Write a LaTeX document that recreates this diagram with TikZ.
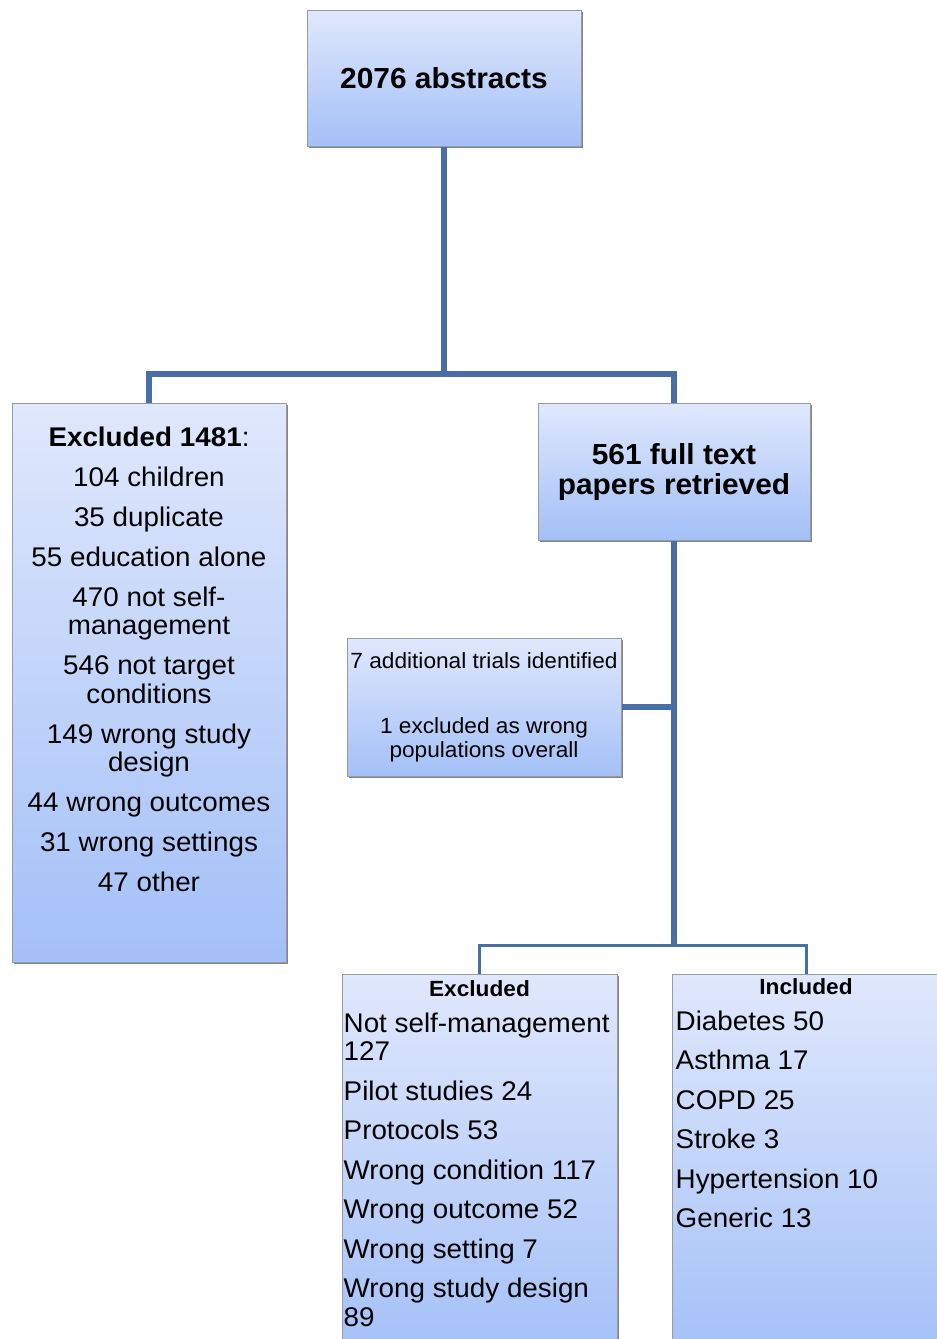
\documentclass[tikz,border=0pt]{standalone}
\usepackage{fontspec}
\setmainfont{Liberation Sans}[FakeStretch=1.03]
\usepackage{tikz}
\usetikzlibrary{positioning, shadows}
\definecolor{boxtop}{RGB}{224,232,252}
\definecolor{boxbottom}{RGB}{163,192,247}
\definecolor{boxedge}{RGB}{150,155,165}
\definecolor{linkblue}{RGB}{72,110,165}

\begin{document}
\begin{tikzpicture}[
        x=1pt, y=-1pt,
        flowbox/.style={rectangle, draw=boxedge, line width=1pt,
                        top color=boxtop, bottom color=boxbottom,
                        drop shadow={shadow xshift=1.5pt, shadow yshift=-1.5pt,
                                     fill=black!60, opacity=0.8},
                        inner sep=0pt, align=center},
        headtext/.style={font=\bfseries\fontsize{29}{30}\selectfont},
        listtext/.style={inner sep=0pt, font=\fontsize{27}{28.5}\selectfont},
        sidetext/.style={font=\fontsize{22}{24}\selectfont},
        subhead/.style={inner sep=0pt, font=\bfseries\fontsize{22}{24}\selectfont},
        link/.style={line width=5.5pt, linkblue},
        thinlink/.style={line width=3pt, linkblue},
    ]
    \clip (0,0) rectangle (937,1339);

    % ---- Top: abstracts ----
    \node[flowbox, headtext, minimum width=274pt, minimum height=136pt] (abstracts)
        at (444,78) {2076 abstracts};

    % ---- Second level ----
    \node[flowbox, minimum width=274pt, minimum height=559pt] (excl) at (149,682.5) {};
    \node[listtext, align=center, below=24pt of excl.north] (excltxt)
        {\textbf{Excluded 1481}:\\[11.5pt]104 children\\[11.5pt]35 duplicate\\[11.5pt]55 education alone\\[11.5pt]470 not self-\\management\\[11.5pt]546 not target\\conditions\\[11.5pt]149 wrong study\\design\\[11.5pt]44 wrong outcomes\\[11.5pt]31 wrong settings\\[11.5pt]47 other};

    \node[flowbox, headtext, minimum width=272pt, minimum height=137pt] (fulltext)
        at (674,471.5) {561 full text\\papers retrieved};

    % ---- Side branch: additional trials ----
    \node[flowbox, sidetext, minimum width=274pt, minimum height=138pt] (addtrials)
        at (484,707) {7 additional trials identified\\[41pt]1 excluded as wrong\\populations overall};

    % ---- Bottom: excluded / included ----
    \node[flowbox, minimum width=275pt, minimum height=386pt] (excl2) at (479.5,1167) {};
    \node[subhead, below=7pt of excl2.north] (excl2head) {Excluded};
    \node[listtext, align=left, below right=39pt and 2pt of excl2.north west] (excl2txt)
        {Not self-management\\127\\[11pt]Pilot studies 24\\[11pt]Protocols 53\\[11pt]Wrong condition 117\\[11pt]Wrong outcome 52\\[11pt]Wrong setting 7\\[11pt]Wrong study design\\89};

    \node[flowbox, minimum width=268pt, minimum height=386pt] (incl) at (806,1167) {};
    \node[subhead, below=5pt of incl.north] (inclhead) {Included};
    \node[listtext, align=left, below right=37pt and 4pt of incl.north west] (incltxt)
        {Diabetes 50\\[11pt]Asthma 17\\[11pt]COPD 25\\[11pt]Stroke 3\\[11pt]Hypertension 10\\[11pt]Generic 13};

    % ---- Connectors ----
    \coordinate (split1) at (444,374);
    \coordinate (split2) at (674,945);
    \draw[link] (abstracts.south) -- (split1);
    \draw[link] (excl.north) |- (split1) -| (fulltext.north);
    \draw[link] (fulltext.south) -- (split2);
    \draw[link] (addtrials.east) -- (addtrials.east -| fulltext.south);
    \draw[thinlink] (excl2.north) |- (split2) -| (incl.north);

\end{tikzpicture}
\end{document}
